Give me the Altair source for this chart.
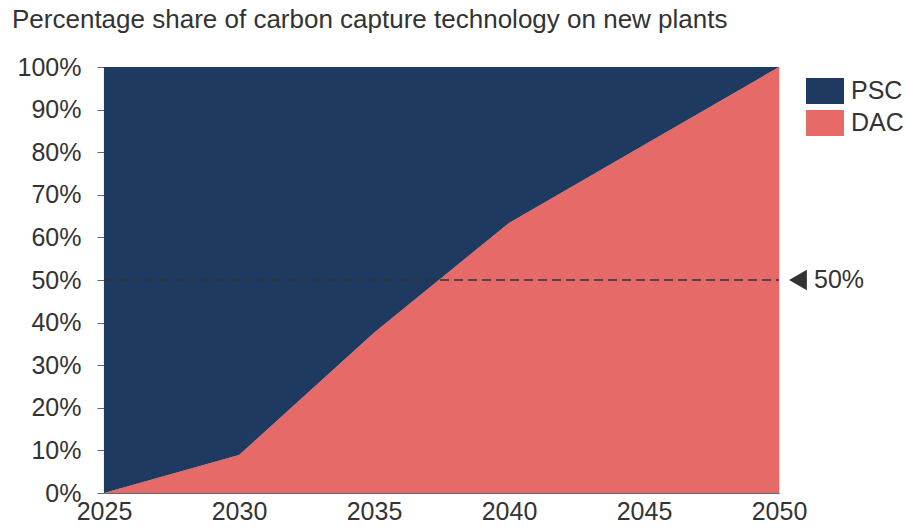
import altair as alt
import pandas as pd

# Share of new plants using each carbon capture technology (%)
years = [2025, 2030, 2035, 2040, 2045, 2050]
dac_share = [0, 8.9, 37.6, 63.4, 81.7, 100]
techs = ["PSC", "DAC"]
tech_colors = ["#1f3a60", "#e66a68"]
y_ticks = [0, 10, 20, 30, 40, 50, 60, 70, 80, 90, 100]
x_ticks = [2025, 2030, 2035, 2040, 2045, 2050]
marker_level = 50
marker_label = "50%"

rows = []
for yr, d in zip(years, dac_share):
    rows.append({"year": yr, "tech": "DAC", "lo": 0, "hi": d})
    rows.append({"year": yr, "tech": "PSC", "lo": d, "hi": 100})
df = pd.DataFrame(rows)

marker_df = pd.DataFrame({"year": [years[0]], "year_end": [years[-1]],
                          "level": [marker_level], "label": [marker_label]})

TEXT = "#333333"
AXIS = "#666666"
FONT = "Liberation Sans"

x_scale = alt.Scale(domain=[years[0], years[-1]], nice=False, zero=False)
y_scale = alt.Scale(domain=[0, 100], nice=False)

areas = alt.Chart(df).mark_area(opacity=1, interpolate="linear").encode(
    x=alt.X("year:Q", scale=x_scale,
            axis=alt.Axis(values=x_ticks, format="d", title=None, grid=False,
                          ticks=False, labelPadding=6, labelFlush=False,
                          labelFontSize=25, labelColor=TEXT, labelFont=FONT,
                          domainColor=AXIS, domainWidth=1.2)),
    y=alt.Y("lo:Q", scale=y_scale,
            axis=alt.Axis(values=y_ticks, title=None, grid=False,
                          labelExpr="datum.value + '%'", tickSize=7,
                          labelPadding=16, labelFontSize=25,
                          labelColor=TEXT, labelFont=FONT,
                          domainColor=AXIS, tickColor=AXIS, domainWidth=1.2)),
    y2="hi:Q",
    color=alt.Color("tech:N",
                    scale=alt.Scale(domain=techs, range=tech_colors),
                    legend=alt.Legend(title=None, orient="none",
                                      legendX=702, legendY=5,
                                      symbolType="M-1,-0.684H1V0.684H-1Z",
                                      symbolSize=1444, symbolStrokeWidth=0,
                                      symbolOpacity=1,
                                      rowPadding=0, labelOffset=7,
                                      labelFontSize=25, labelColor=TEXT,
                                      labelFont=FONT, padding=0)),
    detail="tech:N",
)

rule = alt.Chart(marker_df).mark_rule(color=TEXT, strokeWidth=1.3,
                                      strokeDash=[9, 5]).encode(
    x=alt.X("year:Q", scale=x_scale),
    x2="year_end:Q",
    y=alt.Y("level:Q", scale=y_scale),
)

arrow = alt.Chart(marker_df).mark_point(shape="triangle-left", filled=True,
                                        color=TEXT, size=420, opacity=1,
                                        xOffset=19).encode(
    x=alt.X("year_end:Q", scale=x_scale),
    y=alt.Y("level:Q", scale=y_scale),
)

label = alt.Chart(marker_df).mark_text(align="left", baseline="middle",
                                       dx=35, fontSize=25, color=TEXT,
                                       font=FONT).encode(
    x=alt.X("year_end:Q", scale=x_scale),
    y=alt.Y("level:Q", scale=y_scale),
    text="label:N",
)

chart = alt.layer(areas, rule, arrow, label).properties(
    width=675,
    height=426,
    autosize=alt.AutoSizeParams(type="none"),
    padding={"left": 104, "top": 67, "right": 130, "bottom": 38},
    title=alt.Title("Percentage share of carbon capture technology on new plants",
                    anchor="start", frame="group", dx=-92, dy=2,
                    fontSize=26, fontWeight="normal", color=TEXT, font=FONT,
                    offset=24),
).configure_view(stroke=None).configure(background="white")

chart.save("out.html", embed_options={"renderer": "svg", "actions": False})
